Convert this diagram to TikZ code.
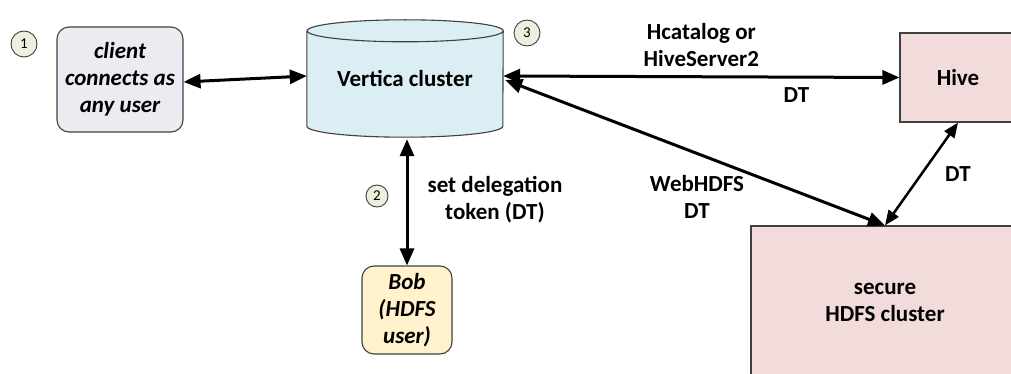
\documentclass[tikz,border=0pt]{standalone}
\usepackage{fontspec}
\setmainfont{Carlito}
\usetikzlibrary{arrows.meta}
\definecolor{clientfill}{HTML}{EDEAF2}
\definecolor{verticafill}{HTML}{DAEEF3}
\definecolor{bobfill}{HTML}{FFF2CC}
\definecolor{hadoopfill}{HTML}{F2DCDB}
\definecolor{stepfill}{HTML}{EBF1DE}
\definecolor{edgegray}{HTML}{404040}
\begin{document}
\begin{tikzpicture}[x=1pt, y=1pt,
    every node/.style={font=\fontsize{23}{27}\selectfont\bfseries, align=center, inner sep=0pt},
    userbox/.style={draw=edgegray, line width=1.1pt, rounded corners=12pt, font=\fontsize{23}{27}\selectfont\bfseries\itshape},
    hadoopbox/.style={draw=edgegray, line width=1.1pt, fill=hadoopfill},
    stepmark/.style={circle, draw=edgegray, line width=0.9pt, fill=stepfill, font=\fontsize{15}{17}\selectfont},
    link/.style={line width=3pt, {Triangle[length=17pt, width=14pt]}-{Triangle[length=17pt, width=14pt]}}]
  \clip (0,0) rectangle (1011,-374);
  \fill[white] (0,0) rectangle (1011,-374);

  % users
  \node[userbox, fill=clientfill, minimum width=126pt, minimum height=105pt] (client) at (120,-79.5) {client\\connects as\\any user};
  \node[userbox, fill=bobfill, minimum width=90pt, minimum height=88pt] (bob) at (407,-310) {Bob\\(HDFS\\user)};

  % vertica cylinder, drawn round a plain node
  \node[minimum width=196pt, minimum height=117pt] (vertica) at (405,-78.5) {};
  \fill[verticafill] ([yshift=-11pt]vertica.north west) -- ([yshift=11pt]vertica.south west)
    arc[start angle=180, end angle=360, x radius=98, y radius=11]
    -- ([yshift=-11pt]vertica.north east)
    arc[start angle=0, end angle=180, x radius=98, y radius=11] -- cycle;
  \draw[edgegray, line width=1.1pt] ([yshift=-11pt]vertica.north west) -- ([yshift=11pt]vertica.south west)
    arc[start angle=180, end angle=360, x radius=98, y radius=11]
    -- ([yshift=-11pt]vertica.north east)
    arc[start angle=0, end angle=360, x radius=98, y radius=11];
  \node at (vertica.center) {Vertica cluster};

  % hadoop side, both boxes run past the frame
  \node[hadoopbox, minimum width=116pt, minimum height=89pt] (hive) at (958,-77.5) {Hive};
  \node[hadoopbox, minimum width=268pt, minimum height=152pt] (hdfs) at (885,-302) {secure\\HDFS cluster};

  % step marks
  \node[stepmark, minimum size=26pt] (s1) at (24,-44) {1};
  \node[stepmark, minimum size=22pt] (s2) at (377,-196) {2};
  \node[stepmark, minimum size=26pt] (s3) at (527,-33) {3};

  % connections
  \draw[link] ([yshift=-2.5pt]client.east) -- ([yshift=2.5pt]vertica.west);
  \draw[link] ([xshift=2pt, yshift=-2pt]vertica.south) -- (bob.north);
  \draw[link] ([yshift=2.5pt]vertica.east) -- (hive.west)
    node[midway, above=9pt] {Hcatalog or\\HiveServer2}
    node[pos=0.74, below=9pt] {DT};
  \draw[link] ([xshift=2pt, yshift=-1.5pt]vertica.east) -- (hdfs.north);
  \draw[line width=2.5pt, {Triangle[length=15pt, width=12pt]}-{Triangle[length=15pt, width=12pt]}] (hive.south) -- (hdfs.north);

  % labels
  \node (dtlabel) at (495,-200) {set delegation\\token (DT)};
  \node (weblabel) at (697,-197) {WebHDFS\\DT};
  \node (hivedt) at (958,-174) {DT};
\end{tikzpicture}
\end{document}
